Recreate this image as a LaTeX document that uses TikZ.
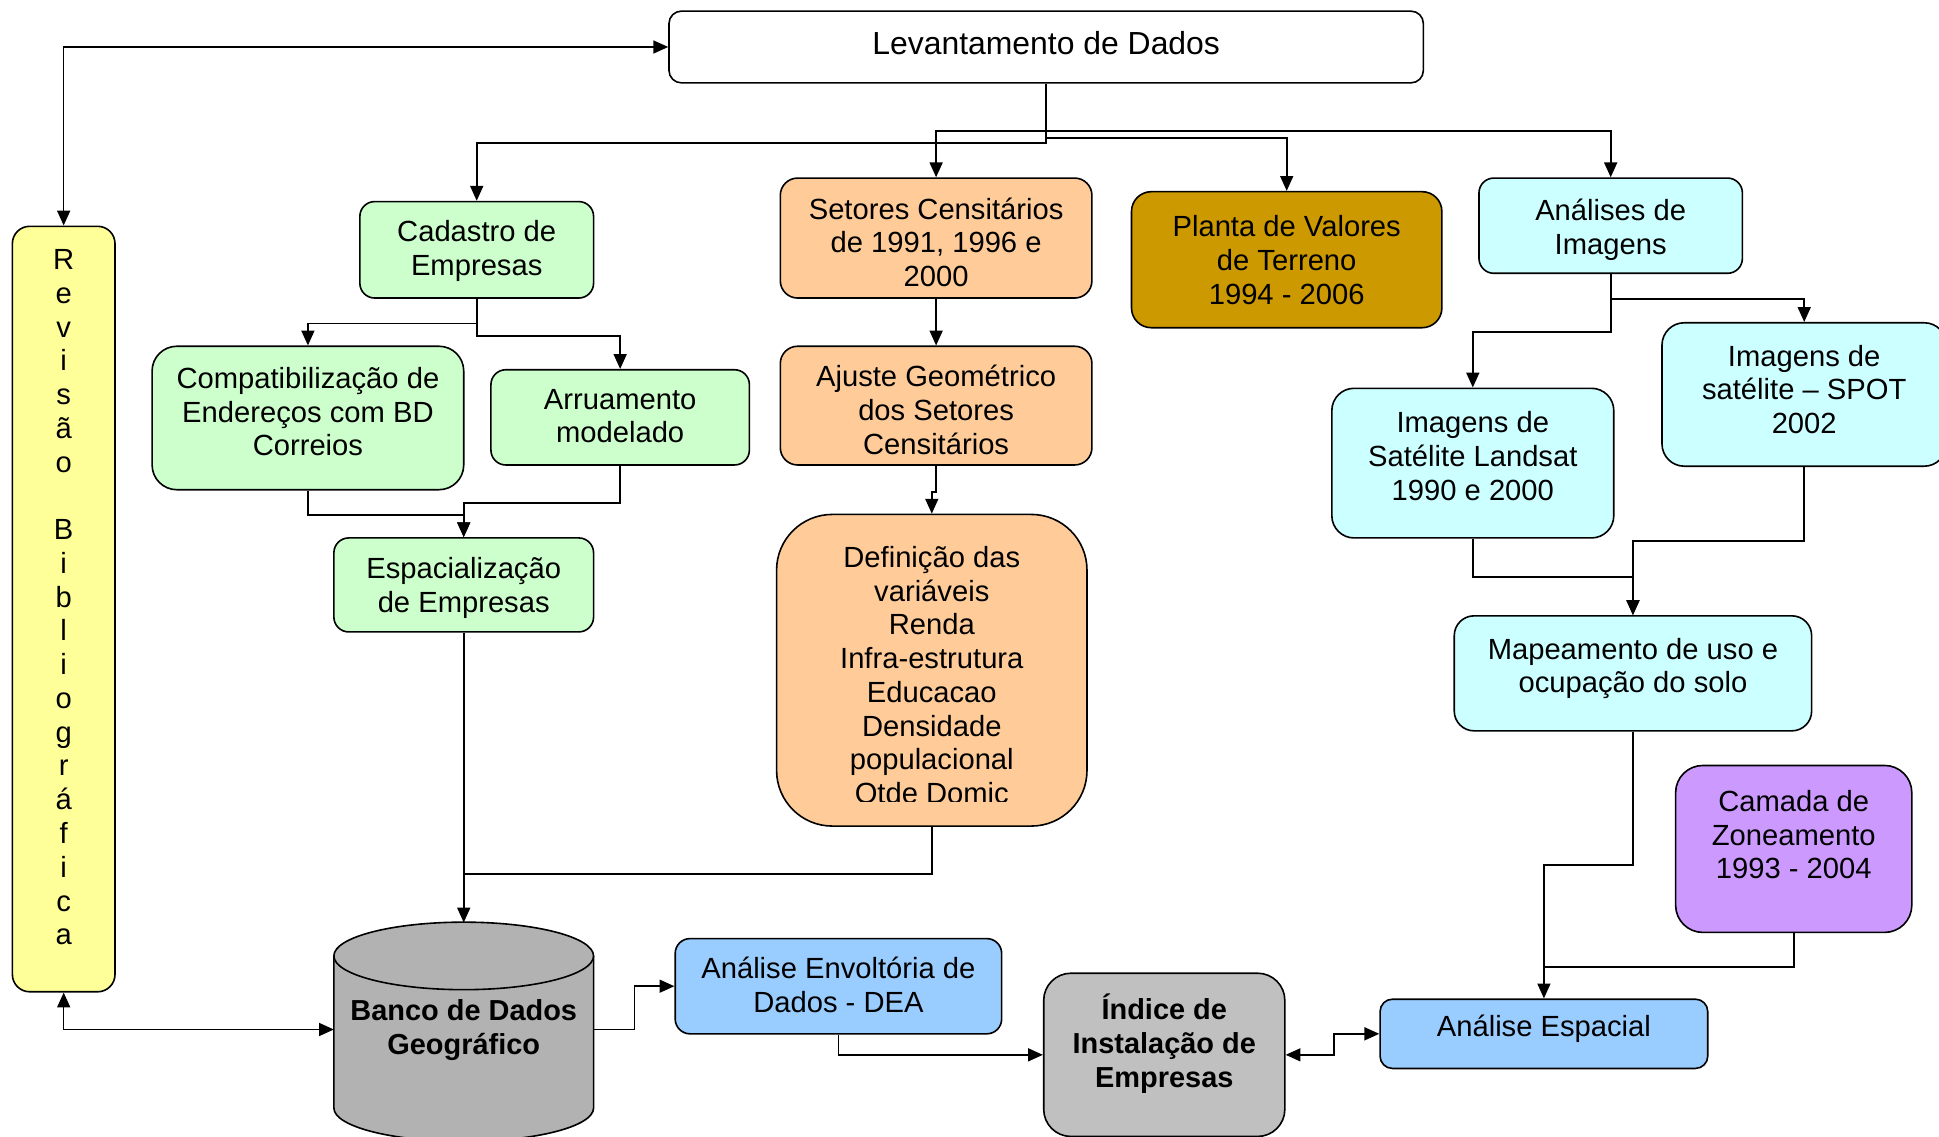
\documentclass[tikz,border=0pt]{standalone}
\usepackage{fontspec}
\setmainfont{Liberation Sans}
\usetikzlibrary{arrows.meta,calc}
\definecolor{cYel}{HTML}{FFFF99}
\definecolor{cGrn}{HTML}{CCFFCC}
\definecolor{cPea}{HTML}{FFCC99}
\definecolor{cGld}{HTML}{CC9900}
\definecolor{cCya}{HTML}{CCFFFF}
\definecolor{cPur}{HTML}{CC99FF}
\definecolor{cBlu}{HTML}{99CCFF}
\definecolor{cGry}{HTML}{B2B2B2}
\definecolor{cGry2}{HTML}{C0C0C0}
\begin{document}
\begin{tikzpicture}[x=1pt,y=-1pt,
  box/.style={draw, line width=1.3pt, inner sep=0pt, rounded corners=12pt},
  txt/.style={align=center, inner sep=0pt, font=\fontsize{23.6}{27.3}\selectfont},
  btxt/.style={align=center, inner sep=0pt, font=\fontsize{23.4}{27.6}\selectfont\bfseries},
  lnk/.style={line width=1.3pt},
  con/.style={line width=1.3pt, -{Triangle[length=12pt,width=10.5pt]}},
  bi/.style={line width=1.3pt, {Triangle[length=12pt,width=10.5pt]}-{Triangle[length=12pt,width=10.5pt]}}]
\useasboundingbox (0,0) rectangle (1568,919);
\clip (0,0) rectangle (1568,919);

% boxes
\node[box, fill=white, rounded corners=10pt, minimum width=610pt, minimum height=58pt] (lev) at (846,38) {};
\node[box, fill=cYel, rounded corners=14pt, minimum width=83pt, minimum height=619pt] (rev) at (51.5,492.5) {};
\node[box, fill=cGrn, minimum width=189pt, minimum height=78pt] (cad) at (385.5,202) {};
\node[box, fill=cPea, rounded corners=14pt, minimum width=252pt, minimum height=97pt] (set) at (757,192.5) {};
\node[box, fill=cGld, rounded corners=16pt, minimum width=251pt, minimum height=110pt] (pla) at (1040.5,210) {};
\node[box, fill=cCya, minimum width=213pt, minimum height=77pt] (ana) at (1302.5,182.5) {};
\node[box, fill=cGrn, rounded corners=20pt, minimum width=252pt, minimum height=116pt] (comp) at (249,338) {};
\node[box, fill=cGrn, minimum width=209pt, minimum height=77pt] (arru) at (501.5,337.5) {};
\node[box, fill=cPea, rounded corners=14pt, minimum width=252pt, minimum height=96pt] (aju) at (757,328) {};
\node[box, fill=cGrn, minimum width=210pt, minimum height=76pt] (esp) at (375,473) {};
\node[box, fill=cPea, rounded corners=45pt, minimum width=251pt, minimum height=252pt] (def) at (753.5,542) {};
\node[box, fill=cCya, rounded corners=18pt, minimum width=228pt, minimum height=121pt] (land) at (1191,374.5) {};
\node[box, fill=cCya, rounded corners=18pt, minimum width=230pt, minimum height=116pt] (spot) at (1459,319) {};
\node[box, fill=cCya, rounded corners=16pt, minimum width=289pt, minimum height=93pt] (map) at (1320.5,544.5) {};
\node[box, fill=cPur, rounded corners=22pt, minimum width=191pt, minimum height=135pt] (cam) at (1450.5,686.5) {};
\node[box, fill=cBlu, minimum width=264pt, minimum height=77pt] (dea) at (678,797.5) {};
\node[box, fill=cGry2, rounded corners=22pt, minimum width=195pt, minimum height=132pt] (ind) at (941.5,853) {};
\node[box, fill=cBlu, rounded corners=10pt, minimum width=265pt, minimum height=56pt] (ae) at (1248.5,836) {};

% cylinder (Banco de Dados Geografico)
\fill[cGry] (270,773) -- (270,896) arc[start angle=180, end angle=0, x radius=105, y radius=27] -- (480,773) -- cycle;
\draw[lnk] (270,773) -- (270,896) arc[start angle=180, end angle=0, x radius=105, y radius=27] -- (480,773);
\draw[lnk, fill=cGry] (375,773) ellipse [x radius=105, y radius=27.3];
\node[inner sep=0pt, outer sep=0pt, minimum width=210pt, minimum height=173pt] (banco) at (375,832.5) {};

% connectors
\draw[con] (lev.south) -- ++(0,48) -| (cad.north);
\draw[con] (lev.south) -- ++(0,38.5) -| (set.north);
\draw[con] (lev.south) -- ++(0,44) -| (pla.north);
\draw[con] (lev.south) -- ++(0,38.5) -| (ana.north);
\draw[bi] (lev.west) -| (rev.north);
\draw[bi] (rev.south) |- (banco.west);
\draw[con] (cad.south) -- ++(0,20) -| (comp.north);
\draw[con] (cad.south) -- ++(0,30) -| (arru.north);
\draw[con] (comp.south) -- ++(0,20) -| (esp.north);
\draw[con] (arru.south) -- ++(0,30) -| (esp.north);
\draw[con] (set.south) -- (aju.north);
\draw[con] (aju.south) -- ++(0,21) -| (def.north);
\draw[con] (esp.south) -- (banco.north);
\coordinate (jb) at (375,707);
\draw[lnk] (def.south) |- (jb);
\draw[con] (ana.south) -- ++(0,47) -| (land.north);
\draw[con] (ana.south) -- ++(0,20) -| (spot.north);
\draw[con] (land.south) -- ++(0,31) -| (map.north);
\draw[con] (spot.south) -- ++(0,60) -| (map.north);
\draw[con] (map.south) -- ++(0,108) -| (ae.north);
\coordinate (jae) at (1248.5,782);
\draw[lnk] (cam.south) |- (jae);
\draw[con] (banco.east) -- ++(33,0) |- (dea.west);
\draw[con] (dea.south) |- (ind.west);
\draw[bi] (ind.east) -- ++(39,0) |- (ae.west);

% texts
\node[txt, font=\fontsize{25.8}{29}\selectfont] (tlev) at (846,34.5) {Levantamento de Dados};
\node[txt] (trev) at (51.5,483) {R\\e\\v\\i\\s\\ã\\o\\~\\B\\i\\b\\l\\i\\o\\g\\r\\á\\f\\i\\c\\a};
\node[txt] (tcad) at (385.5,203) {Cadastro de\\Empresas};
\node[txt] (tset) at (757,196) {Setores Censitários\\de 1991, 1996 e\\2000};
\node[txt] (tpla) at (1040.5,210.5) {Planta de Valores\\de Terreno\\1994 - 2006};
\node[txt] (tana) at (1302.5,186) {Análises de\\Imagens};
\node[txt] (tcomp) at (249,333) {Compatibilização de\\Endereços com BD\\Correios};
\node[txt] (tarru) at (501.5,336.5) {Arruamento\\modelado};
\node[txt] (taju) at (757,331.5) {Ajuste Geométrico\\dos Setores\\Censitários};
\node[txt] (tesp) at (375,475.5) {Espacialização\\de Empresas};
\begin{scope}
\clip (628,416) rectangle (879,648.5);
\node[txt] (tdef) at (753.5,548) {Definição das\\variáveis\\Renda\\Infra-estrutura\\Educacao\\Densidade\\populacional\\Qtde Domic};
\end{scope}
\node[txt] (tland) at (1191,369) {Imagens de\\Satélite Landsat\\1990 e 2000};
\node[txt] (tspot) at (1459,315) {Imagens de\\satélite – SPOT\\2002};
\node[txt] (tmap) at (1320.5,540.5) {Mapeamento de uso e\\ocupação do solo};
\node[txt] (tcam) at (1450.5,675) {Camada de\\Zoneamento\\1993 - 2004};
\node[txt] (tdea) at (678,796.5) {Análise Envoltória de\\Dados - DEA};
\node[btxt] (tind) at (941.5,844) {Índice de\\Instalação de\\Empresas};
\node[txt] (tae) at (1248.5,832) {Análise Espacial};
\node[btxt] (tbanco) at (375,833) {Banco de Dados\\Geográfico};
\end{tikzpicture}
\end{document}
